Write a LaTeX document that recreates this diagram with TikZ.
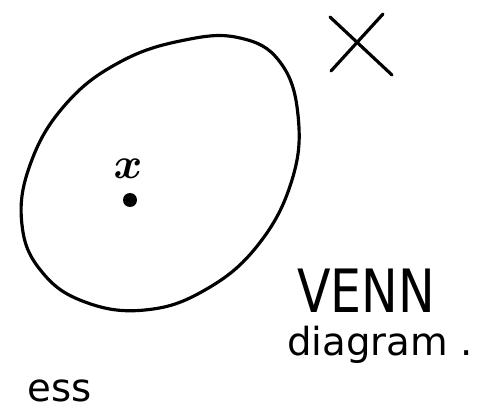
\documentclass[tikz,border=0pt]{standalone}
\usepackage{fontspec}
\setmainfont{DejaVu Sans}
\usetikzlibrary{positioning}
\tikzset{
  pen/.style={line width=1.8pt,line cap=round,line join=round},
  hand/.style={inner sep=0pt,font=\fontsize{34}{34}\selectfont,xscale=0.82},
  small/.style={inner sep=0pt,font=\fontsize{22}{22}\selectfont},
}
\begin{document}
\begin{tikzpicture}
\useasboundingbox (0,0) rectangle (9.8,8.22);
% the set
\draw[pen] plot[smooth cycle,tension=0.7] coordinates {
  (4.8,7.46) (5.6,6.98) (5.96,5.92) (5.84,4.62) (5.16,3.32) (4.1,2.42)
  (2.9,2.02) (1.7,2.18) (0.84,2.78) (0.44,3.72) (0.6,4.92) (1.3,6.12)
  (2.4,6.98) (3.7,7.42)};
% element x
\node[small,font=\fontsize{26}{26}\selectfont\boldmath] (xlab) at (2.56,4.84) {$x$};
\fill (2.6,4.22) circle (0.14);
% universe X
\coordinate (c1) at (6.6,7.88); \coordinate (c2) at (7.84,6.72);
\coordinate (c3) at (7.66,7.94); \coordinate (c4) at (6.62,6.8);
\draw[pen] (c1)--(c2); \draw[pen] (c3)--(c4);
% caption
\node[hand] (venn) at (7.32,2.4) {VENN};
\node[small,anchor=base] (diag) at (7.6,1.1) {diagram .};
\node[small,anchor=base] (cut) at (1.2,0.18) {ess};
\end{tikzpicture}
\end{document}
